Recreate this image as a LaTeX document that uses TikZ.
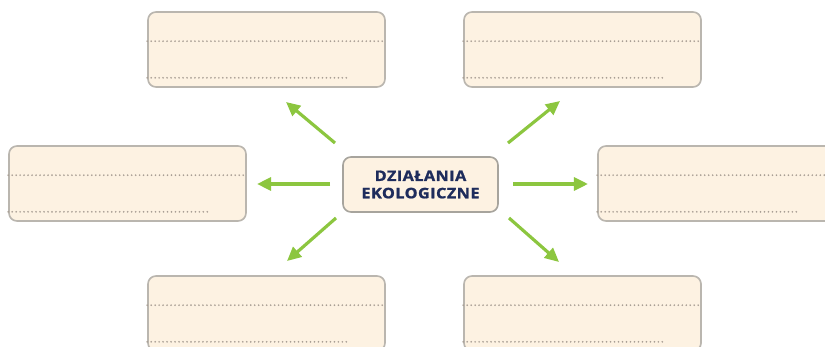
\documentclass[tikz,border=0pt]{standalone}
\usepackage{fontspec}
\newfontfamily\headfont[FakeStretch=1.12,FakeBold=1.2,LetterSpace=3]{Open Sans}
\usetikzlibrary{arrows.meta}
\definecolor{cardfill}{HTML}{FDF2E2}
\definecolor{cardline}{HTML}{BAB6AF}
\definecolor{dotcol}{HTML}{A89E94}
\definecolor{arrowgreen}{HTML}{8CC63F}
\definecolor{navy}{HTML}{1E2C5C}
\tikzset{
  card/.style={draw=cardline, fill=cardfill, line width=1.4pt, rounded corners=0.24cm,
    minimum width=7.11cm, minimum height=2.25cm},
  hub/.style={draw=cardline!90!black, fill=cardfill, line width=1.4pt, rounded corners=0.24cm,
    minimum width=4.65cm, minimum height=1.65cm, align=center, text=navy,
    font=\headfont\bfseries\fontsize{12.4pt}{14.8pt}\selectfont},
  dotline/.style={dotcol, line width=1.6pt, line cap=round, dash pattern=on 0pt off 3.4pt},
  arr/.style={arrowgreen, line width=2.7pt, -{Triangle[length=12pt,width=11pt]}}
}
\newcommand{\cardlines}[1]{%
  \draw[dotline] ([yshift=-0.9cm]#1.north west) -- ([yshift=-0.9cm]#1.north east);
  \draw[dotline] ([yshift=0.3cm]#1.south west) -- ([xshift=6.06cm,yshift=0.3cm]#1.south west);}
\begin{document}
\begin{tikzpicture}[x=0.03cm, y=-0.03cm]
  \clip (0,0) rectangle (825,347);
  \fill[white] (0,0) rectangle (825,347);

  % Centre
  \node[hub] (hub) at (420.5,184.5) {DZIAŁANIA\\EKOLOGICZNE};

  % Answer cards
  \node[card] (topleft) at (266.5,49.5) {};
  \node[card] (topright) at (582.5,49.5) {};
  \node[card] (midleft) at (127.5,183.5) {};
  \node[card] (midright) at (716.5,183.5) {};
  \node[card] (botleft) at (266.5,313.5) {};
  \node[card] (botright) at (582.5,313.5) {};
  \foreach \c in {topleft,topright,midleft,midright,botleft,botright}
    {\cardlines{\c}}

  % Arrows
  \coordinate (ul0) at (335,143); \coordinate (ul1) at (286,102);
  \coordinate (l0) at (330,184);  \coordinate (l1) at (257,184);
  \coordinate (dl0) at (336,218); \coordinate (dl1) at (287,261);
  \coordinate (ur0) at (508,143); \coordinate (ur1) at (560,101);
  \coordinate (r0) at (513,184);  \coordinate (r1) at (588,184);
  \coordinate (dr0) at (509,218); \coordinate (dr1) at (559,262);
  \draw[arr] (ul0) -- (ul1);
  \draw[arr] (l0) -- (l1);
  \draw[arr] (dl0) -- (dl1);
  \draw[arr] (ur0) -- (ur1);
  \draw[arr] (r0) -- (r1);
  \draw[arr] (dr0) -- (dr1);
\end{tikzpicture}
\end{document}
